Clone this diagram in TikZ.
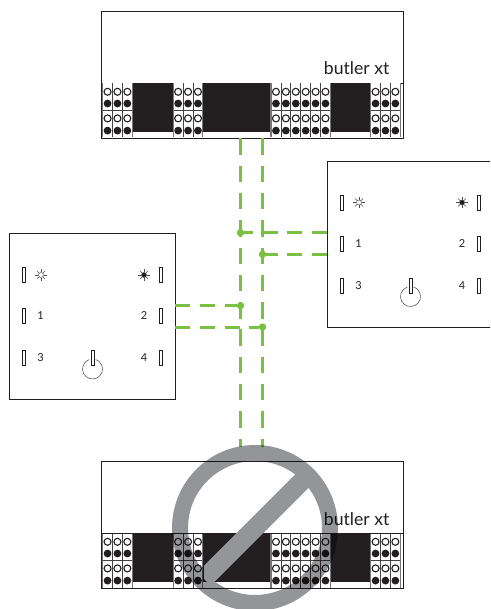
\documentclass[tikz,border=0pt]{standalone}
\usepackage{fontspec}
\setmainfont{Lato}
\usetikzlibrary{calc}
\definecolor{wiregreen}{HTML}{7AC143}
\definecolor{stopgray}{HTML}{939598}
\definecolor{inkblack}{HTML}{231F20}
\tikzset{
  boxline/.style={draw=inkblack,line width=0.9pt,fill=white},
  wirev/.style={draw=wiregreen,line width=3pt,dash pattern=on 16.4pt off 10.9pt},
  wireh/.style={draw=wiregreen,line width=3pt,dash pattern=on 15pt off 9.6pt},
  joint/.style={circle,fill=wiregreen,inner sep=0pt,minimum size=7.4pt},
  ledbar/.style={draw=inkblack,line width=0.6pt,fill=white},
  numlabel/.style={font=\fontsize{11}{12}\selectfont,text=inkblack,inner sep=0pt},
  titlelabel/.style={font=\fontsize{17.6}{19}\selectfont,text=inkblack,inner sep=0pt,anchor=base east},
  ray/.style={draw=inkblack!80,line width=0.45pt},
  blackblock/.style={fill=inkblack,draw=none},
  celline/.style={draw=inkblack!85,line width=0.8pt},
  edgeline/.style={draw=stopgray!80!black,line width=1.1pt},
  openpin/.style={draw=inkblack,line width=1.1pt,fill=white},
  fullpin/.style={fill=inkblack,draw=none}
}
% terminal group: #1 left x, #2 number of cells, #3 y offset
\newcommand{\termgroup}[3]{%
  \fill[white] (#1,83.5+#3) rectangle ({#1+#2*9.9},137.5+#3);
  \foreach \k in {1,...,#2}{%
    \pgfmathsetmacro{\cx}{#1+(\k-0.5)*9.9}
    \fill[fullpin] (\cx,103.5+#3) circle (3.9);
    \fill[fullpin] (\cx,130.6+#3) circle (3.9);
  }
  \foreach \k in {1,...,#2}{%
    \ifnum\k<#2\relax
    \pgfmathsetmacro{\cx}{#1+\k*9.9}
    \draw[celline] (\cx,83.5+#3) -- (\cx,137.5+#3);
    \fi
  }
  \foreach \k in {1,...,#2}{%
    \pgfmathsetmacro{\cx}{#1+(\k-0.5)*9.9}
    \draw[openpin] (\cx,91.8+#3) circle (3.5);
    \draw[openpin] (\cx,118.4+#3) circle (3.5);
  }
  \draw[celline] (#1,110.8+#3) -- ({#1+#2*9.9},110.8+#3);
  \draw[edgeline] (#1,83.5+#3) -- (#1,137.5+#3);
  \draw[edgeline] ({#1+#2*9.9},83.5+#3) -- ({#1+#2*9.9},137.5+#3);
}
% butler unit: #1 name, #2 y offset
\newcommand{\butlerunit}[2]{%
  \node[boxline,inner sep=0pt,minimum width=302pt,minimum height=127pt,anchor=north west] (#1) at (101,11+#2) {};
  \fill[blackblock] (133,83+#2) rectangle (172.5,132+#2);
  \fill[blackblock] (203,83+#2) rectangle (270.5,132+#2);
  \fill[blackblock] (330.5,83+#2) rectangle (370,132+#2);
  \draw[draw=inkblack,line width=0.8pt] (101,83+#2) -- (403,83+#2);
  \termgroup{102.6}{3}{#2}
  \termgroup{173.2}{3}{#2}
  \termgroup{271}{6}{#2}
  \termgroup{370.6}{3}{#2}
  \node[titlelabel] (#1title) at (389.5,75+#2) {butler xt};
}
\newcommand{\ledbar}[2]{\draw[ledbar] (#1-1.5,#2-7.5) rectangle (#1+1.5,#2+7.5);}
\newcommand{\sunicon}[3]{%
  \foreach \a in {0,45,...,315}{\draw[ray] ($(#1,#2)+(\a:2.6)$) -- ($(#1,#2)+(\a:5.6)$);}
  \draw[ray,fill=#3] (#1,#2) circle (2.5);
}
% switch panel: #1 name, #2 x offset, #3 y offset
\newcommand{\switchpanel}[3]{%
  \node[boxline,inner sep=0pt,minimum width=166pt,minimum height=166pt,anchor=north west] (#1) at (9.4+#2,233.3+#3) {};
  \ledbar{24+#2}{275+#3}
  \ledbar{24+#2}{316+#3}
  \ledbar{24+#2}{358+#3}
  \ledbar{161+#2}{275+#3}
  \ledbar{161+#2}{316+#3}
  \ledbar{161+#2}{358+#3}
  \sunicon{41+#2}{275+#3}{white}
  \sunicon{144+#2}{275+#3}{inkblack}
  \node[numlabel] (#1n1) at (40.5+#2,316+#3) {1};
  \node[numlabel] (#1n2) at (144+#2,316+#3) {2};
  \node[numlabel] (#1n3) at (40.5+#2,358+#3) {3};
  \node[numlabel] (#1n4) at (144+#2,358+#3) {4};
  \draw[draw=inkblack!85,line width=0.5pt] ({92.5+#2+3.2},{369+#3-9.5}) arc[start angle=-71.4,end angle=251.4,radius=10];
  \ledbar{92.5+#2}{358+#3}
}
\begin{document}
\begin{tikzpicture}[x=1pt,y=-1pt]
\useasboundingbox (0,0) rectangle (490,609);
\clip (0,0) rectangle (490,609);
\fill[white] (0,0) rectangle (490,609);

\butlerunit{top}{0}
\butlerunit{bottom}{450}
\switchpanel{left}{0}{0}
\switchpanel{right}{318}{-72.5}

% junctions
\node[joint] (jA) at (240.5,232.7) {};
\node[joint] (jB) at (262.5,254.3) {};
\node[joint] (jC) at (240.5,305.7) {};
\node[joint] (jD) at (262.5,327) {};
\coordinate (tA) at (240.5,138.3);
\coordinate (tB) at (262.5,138.3);
\coordinate (bA) at (240.5,447);
\coordinate (bB) at (262.5,447);
\coordinate (rA) at (327,232.7);
\coordinate (rB) at (327,254.3);
\coordinate (lC) at (175.4,305.7);
\coordinate (lD) at (175.4,327);

\draw[wirev] (tA) -- (bA);
\draw[wirev] (tB) -- (bB);
\draw[wireh] (rA) -- (jA);
\draw[wireh] (rB) -- (jB);
\draw[wireh] (lC) -- (jC);
\draw[wireh] (lD) -- (jD);

% prohibition sign: one even-odd path so that nothing is darkened twice
\coordinate (stopc) at (255,528);
\fill[stopgray,even odd rule,blend mode=multiply]
  (stopc) circle (83)
  ($(stopc)+(143.15:67)$) arc[start angle=143.15,end angle=306.85,radius=67] -- cycle
  ($(stopc)+(-36.85:67)$) arc[start angle=-36.85,end angle=126.85,radius=67] -- cycle;
% the bar stays grey where it crosses the middle black block
\begin{scope}
  \clip (204,533.5) rectangle (270.4,582);
  \draw[draw=stopgray,line width=19pt] ($(stopc)+(-45:72)$) -- ($(stopc)+(135:72)$);
\end{scope}
\end{tikzpicture}
\end{document}
